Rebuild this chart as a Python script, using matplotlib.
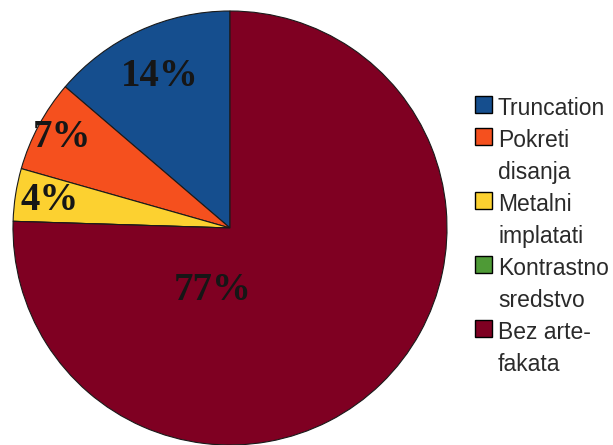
import matplotlib
matplotlib.use('Agg')
import matplotlib.pyplot as plt
from matplotlib.patches import Rectangle
import numpy as np

# Data
categories = ['Truncation', 'Pokreti\ndisanja', 'Metalni\nimplatati',
              'Kontrastno\nsredstvo', 'Bez arte-\nfakata']
values = [14, 7, 4, 0, 77]
colors = ['#154e8e', '#f5501e', '#fcd130', '#4e9a36', '#7f0022']

W, H = 613, 445
fig = plt.figure(figsize=(W / 100, H / 100), dpi=100)
fig.patch.set_facecolor('white')

# pie axes: centre at (230, 228) px, radius 217 px
cx, cy, r = 230, 228, 217
ax = fig.add_axes([(cx - r) / W, (H - cy - r) / H, 2 * r / W, 2 * r / H])
wedges, _ = ax.pie(values, colors=colors, startangle=90, counterclock=True,
                   wedgeprops=dict(edgecolor='#1a1a1a', linewidth=0.8))
ax.set_xlim(-1, 1)
ax.set_ylim(-1, 1)
ax.set_aspect('equal')
ax.axis('off')

# percent labels
label_font = dict(family=['Liberation Serif', 'DejaVu Serif'], fontsize=28,
                  fontweight='bold', color='#161616')
dist = [0.77, 0.88, 0.84]
for w, v, d in zip(wedges[:3], values[:3], dist):
    mid = np.deg2rad((w.theta1 + w.theta2) / 2)
    ax.text(d * np.cos(mid), d * np.sin(mid), f'{v}%',
            ha='center', va='center', **label_font)
ax.text(-0.08, -0.29, f'{values[4]}%', ha='center', va='center', **label_font)

# legend drawn by hand, one square per category
txt_font = dict(family=['Liberation Sans', 'DejaVu Sans'],
                fontsize=16.5, color='#2a2a2a')
line_h = 32
row = 0
for cat, col in zip(categories, colors):
    lines = cat.split('\n')
    base = 115 + row * line_h
    fig.patches.append(Rectangle((475 / W, 1 - (base - 2) / H), 17 / W, 17 / H,
                                 transform=fig.transFigure, facecolor=col,
                                 edgecolor='black', linewidth=1))
    for ln in lines:
        fig.text(498 / W, 1 - (115 + row * line_h) / H, ln,
                 ha='left', va='baseline', **txt_font)
        row += 1

fig.savefig('out.png', dpi=100)
